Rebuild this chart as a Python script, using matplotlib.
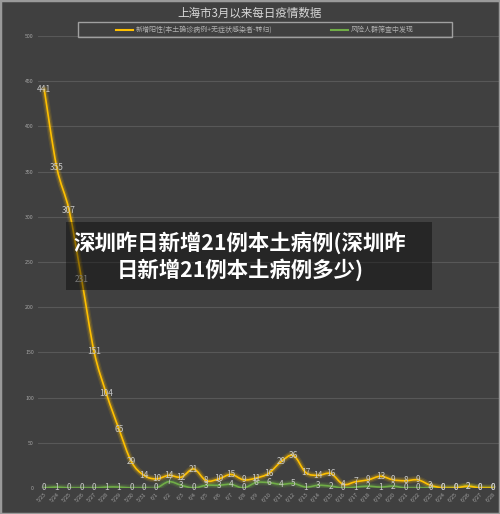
import matplotlib
matplotlib.use('Agg')
import matplotlib.pyplot as plt
from matplotlib.path import Path
from matplotlib.patches import PathPatch, Rectangle
from matplotlib.lines import Line2D

plt.rcParams['font.family'] = ['Noto Sans CJK SC', 'DejaVu Sans']

# data
dates = ['5/23', '5/24', '5/25', '5/26', '5/27', '5/28', '5/29', '5/30', '5/31',
         '6/1', '6/2', '6/3', '6/4', '6/5', '6/6', '6/7', '6/8', '6/9', '6/10',
         '6/11', '6/12', '6/13', '6/14', '6/15', '6/16', '6/17', '6/18', '6/19',
         '6/20', '6/21', '6/22', '6/23', '6/24', '6/25', '6/26', '6/27', '6/28']
new_positive = [441, 355, 307, 231, 151, 104, 65, 29, 14, 10, 14, 12, 21, 8, 10, 15, 9,
                11, 16, 29, 36, 17, 14, 16, 4, 7, 9, 13, 9, 8, 9, 3, 0, 0, 2, 0, 0]
screening = [0, 1, 0, 0, 0, 1, 1, 0, 0, 0, 7, 3, 0, 3, 3, 4, 0, 6, 6, 4, 5, 1, 3, 2,
             0, 1, 2, 1, 2, 0, 0, 0, 0, 0, 2, 0, 0]

title = '上海市3月以来每日疫情数据'
series_names = ['新增阳性(本土确诊病例+无症状感染者-转归)', '风险人群筛查中发现']
overlay_text = '深圳昨日新增21例本土病例(深圳昨\n日新增21例本土病例多少)'

bg = '#404040'
yellow = '#FFC000'
green = '#70AD47'


def smooth_path(xs, ys):
    # catmull-rom style bezier through the points (like excel "smoothed line")
    n = len(xs)
    verts = [(xs[0], ys[0])]
    codes = [Path.MOVETO]
    for i in range(n - 1):
        x0, y0 = xs[max(i - 1, 0)], ys[max(i - 1, 0)]
        x1, y1 = xs[i], ys[i]
        x2, y2 = xs[i + 1], ys[i + 1]
        x3, y3 = xs[min(i + 2, n - 1)], ys[min(i + 2, n - 1)]
        c1 = (x1 + (x2 - x0) / 6.0, y1 + (y2 - y0) / 6.0)
        c2 = (x2 - (x3 - x1) / 6.0, y2 - (y3 - y1) / 6.0)
        verts += [c1, c2, (x2, y2)]
        codes += [Path.CURVE4] * 3
    return Path(verts, codes)


def glow_line(ax, xs, ys, color):
    p = smooth_path(xs, ys)
    for lw, a in [(5, 0.12), (3.2, 0.22)]:
        ax.add_patch(PathPatch(p, fill=False, edgecolor=color, lw=lw, alpha=a,
                               capstyle='round', joinstyle='round', zorder=3))
    ax.add_patch(PathPatch(p, fill=False, edgecolor=color, lw=1.2,
                           capstyle='round', joinstyle='round', zorder=4))


fig = plt.figure(figsize=(5, 5.14), dpi=100, facecolor=bg)
ax = fig.add_axes([0.076, 0.0506, 0.922, 0.8794], facecolor=bg)

x = list(range(len(dates)))
glow_line(ax, x, screening, green)
glow_line(ax, x, new_positive, yellow)

for xi, v in zip(x, screening):
    ax.text(xi, v, str(v), color='#c8c8c8', fontsize=6, ha='center', va='center', zorder=6)
for xi, v in zip(x, new_positive):
    ax.text(xi, v, str(v), color='#c8c8c8', fontsize=6, ha='center', va='center', zorder=6)

ax.set_xlim(-0.5, len(dates) - 0.5)
ax.set_ylim(0, 500)
ax.set_yticks(range(0, 501, 50))
ax.set_xticks(x)
ax.set_xticklabels(dates, rotation=45, ha='right', rotation_mode='anchor')
ax.tick_params(axis='both', length=0, colors='#a6a6a6', labelsize=3.8)
ax.tick_params(axis='y', pad=3)
ax.tick_params(axis='x', pad=3)
ax.grid(axis='y', color='#585858', lw=0.8)
ax.set_axisbelow(True)
for s in ax.spines.values():
    s.set_visible(False)

fig.text(0.5, 0.975, title, ha='center', va='center', color='#d9d9d9', fontsize=8.3)

# legend frame + entries
fig.patches.append(Rectangle((78 / 500, 1 - 37.3 / 514), 374 / 500, 15 / 514,
                             transform=fig.transFigure, fill=False,
                             edgecolor='#a0a0a0', lw=1.0))
handles = [Line2D([], [], color=yellow, lw=1.5), Line2D([], [], color=green, lw=1.5)]
fig.legend(handles, series_names, loc='center', bbox_to_anchor=(265 / 500, 1 - 30 / 514),
           ncol=2, frameon=False, fontsize=5, labelcolor='#b0b0b0', handlelength=2.4,
           handletextpad=0.4, columnspacing=8.5)

# dark overlay with caption
fig.patches.append(Rectangle((66 / 500, 1 - 290 / 514), 366 / 500, 68 / 514,
                             transform=fig.transFigure, facecolor='black', alpha=0.4,
                             edgecolor='none', zorder=10))
fig.text(0.48, 1 - 256 / 514, overlay_text, ha='center', va='center', color='white',
         fontsize=15.4, fontweight='bold', linespacing=1.2, zorder=11)

# outer border
fig.patches.append(Rectangle((0, 0), 1, 1, transform=fig.transFigure, fill=False,
                             edgecolor='#9a9a9a', lw=2.5, zorder=12))

fig.savefig('out.png', dpi=100, facecolor=bg)
